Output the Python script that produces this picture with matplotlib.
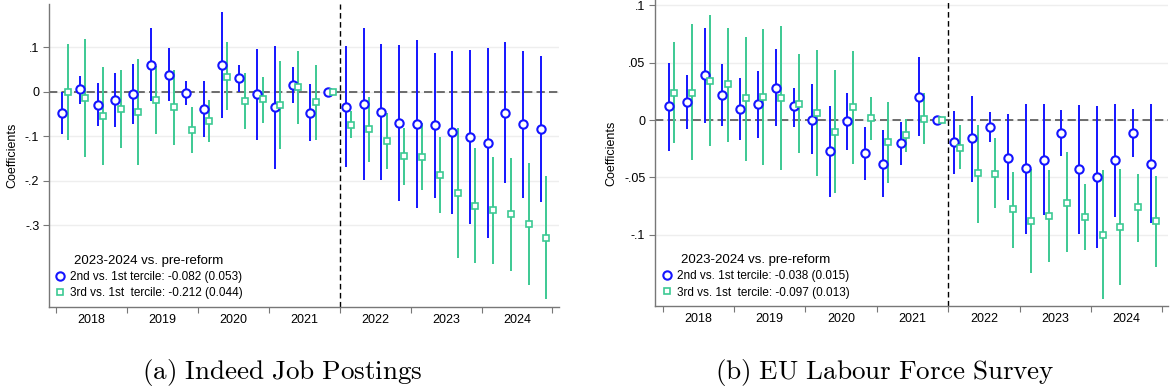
import numpy as np
import matplotlib.pyplot as plt

plt.rcParams['font.family'] = ['Liberation Sans', 'DejaVu Sans']
plt.rcParams['mathtext.fontset'] = 'cm'

years = ["2018", "2019", "2020", "2021", "2022", "2023", "2024"]
n_quarters = 28
ref_break = 15.5  # between 2021Q4 and 2022Q1

# (a) Indeed job postings
a_b2 = [-0.047, 0.005, -0.029, -0.018, -0.006, 0.061, 0.038, -0.003, -0.038, 0.059, 0.030, -0.006, -0.035, 0.015,
        -0.047, 0.0, -0.034, -0.028, -0.045, -0.070, -0.073, -0.076, -0.091, -0.102, -0.115, -0.047, -0.072, -0.084]
a_hi2 = [0.0, 0.035, 0.019, 0.043, 0.063, 0.143, 0.097, 0.023, 0.025, 0.179, 0.060, 0.096, 0.102, 0.055,
         0.018, 0.0, 0.102, 0.144, 0.108, 0.105, 0.116, 0.087, 0.091, 0.093, 0.099, 0.111, 0.092, 0.081]
a_lo2 = [-0.095, -0.027, -0.077, -0.079, -0.073, -0.020, -0.020, -0.029, -0.101, -0.060, -0.001, -0.108, -0.173, -0.025,
         -0.112, 0.0, -0.170, -0.198, -0.198, -0.246, -0.262, -0.239, -0.274, -0.298, -0.330, -0.205, -0.238, -0.249]
a_b3 = [-0.001, -0.015, -0.055, -0.040, -0.046, -0.019, -0.035, -0.087, -0.067, 0.034, -0.021, -0.017, -0.030, 0.010,
        -0.023, 0.0, -0.074, -0.084, -0.111, -0.145, -0.147, -0.188, -0.228, -0.256, -0.266, -0.275, -0.298, -0.328]
a_hi3 = [0.107, 0.118, 0.055, 0.048, 0.073, 0.058, 0.049, -0.034, -0.019, 0.111, 0.043, 0.034, 0.070, 0.091,
         0.061, 0.0, -0.043, -0.012, -0.048, -0.082, -0.071, -0.102, -0.081, -0.126, -0.147, -0.148, -0.160, -0.189]
a_lo3 = [-0.108, -0.147, -0.164, -0.126, -0.165, -0.096, -0.119, -0.138, -0.114, -0.041, -0.085, -0.070, -0.130, -0.073,
         -0.109, 0.0, -0.105, -0.157, -0.173, -0.209, -0.222, -0.273, -0.374, -0.386, -0.387, -0.404, -0.435, -0.467]

# (b) EU Labour Force Survey
b_b2 = [0.012, 0.016, 0.039, 0.022, 0.010, 0.014, 0.028, 0.012, 0.0, -0.027, -0.001, -0.029, -0.038, -0.020,
        0.020, 0.0, -0.019, -0.016, -0.006, -0.033, -0.042, -0.035, -0.011, -0.043, -0.050, -0.035, -0.011, -0.038]
b_hi2 = [0.050, 0.039, 0.080, 0.049, 0.037, 0.043, 0.062, 0.028, 0.031, 0.012, 0.024, -0.006, -0.009, -0.002,
         0.055, 0.0, 0.008, 0.021, 0.007, 0.005, 0.014, 0.014, 0.009, 0.013, 0.012, 0.014, 0.010, 0.014]
b_lo2 = [-0.027, -0.008, -0.003, -0.005, -0.017, -0.016, -0.005, -0.006, -0.030, -0.067, -0.026, -0.052, -0.067, -0.039,
         -0.014, 0.0, -0.047, -0.054, -0.019, -0.070, -0.099, -0.083, -0.031, -0.099, -0.112, -0.085, -0.032, -0.090]
b_b3 = [0.024, 0.024, 0.034, 0.031, 0.019, 0.020, 0.019, 0.014, 0.006, -0.010, 0.011, 0.002, -0.019, -0.013,
        0.001, 0.0, -0.024, -0.046, -0.047, -0.078, -0.088, -0.084, -0.072, -0.085, -0.100, -0.093, -0.076, -0.088]
b_hi3 = [0.068, 0.084, 0.092, 0.080, 0.072, 0.079, 0.082, 0.058, 0.061, 0.044, 0.060, 0.020, 0.016, 0.001,
         0.024, 0.0, -0.004, -0.004, -0.016, -0.045, -0.043, -0.044, -0.028, -0.056, -0.044, -0.043, -0.047, -0.049]
b_lo3 = [-0.020, -0.035, -0.023, -0.019, -0.036, -0.039, -0.044, -0.029, -0.049, -0.064, -0.038, -0.017, -0.055, -0.028,
         -0.021, 0.0, -0.043, -0.090, -0.077, -0.112, -0.133, -0.124, -0.115, -0.113, -0.156, -0.144, -0.106, -0.128]

a_yticks = [0.1, 0.0, -0.1, -0.2, -0.3]
a_ylabels = [".1", "0", "-.1", "-.2", "-.3"]
b_yticks = [0.1, 0.05, 0.0, -0.05, -0.1]
b_ylabels = [".1", ".05", "0", "-.05", "-.1"]

a_leg = ["2nd vs. 1st tercile: -0.082 (0.053)", "3rd vs. 1st  tercile: -0.212 (0.044)"]
b_leg = ["2nd vs. 1st tercile: -0.038 (0.015)", "3rd vs. 1st  tercile: -0.097 (0.013)"]
leg_title = "2023-2024 vs. pre-reform"

BLUE = "#1414ff"
GREEN = "#3cc993"
SPINE = "#777777"


def panel(ax, b2, lo2, hi2, b3, lo3, hi3, yticks, ylabels, ylim, xlim, labels, leg_xy, ylab_x):
    t = np.arange(n_quarters)
    x2 = t - 0.15
    x3 = t + 0.15
    for y in yticks:
        ax.axhline(y, color="#eeeeee", lw=1, zorder=0)
    ax.axhline(0, color="#555555", lw=1.2, dashes=(5, 2.5), zorder=1)
    ax.axvline(ref_break, color="black", lw=1, dashes=(4, 2.5), zorder=1)
    ax.vlines(x2, lo2, hi2, color=BLUE, lw=1.4, zorder=2)
    ax.vlines(x3, lo3, hi3, color=GREEN, lw=1.4, zorder=2)
    h2, = ax.plot(x2, b2, 'o', ms=6, mfc='white', mec=BLUE, mew=1.5, ls='none', zorder=3)
    h3, = ax.plot(x3, b3, 's', ms=5, mfc='white', mec=GREEN, mew=1.2, ls='none', zorder=3)

    ax.set_xlim(*xlim)
    ax.set_ylim(*ylim)
    ax.set_yticks(yticks)
    ax.set_yticklabels(ylabels)
    ax.set_xticks(np.arange(-0.5, n_quarters, 4))
    ax.set_xticklabels([])
    ax.set_xticks(np.arange(1.5, n_quarters, 4), minor=True)
    ax.set_xticklabels(years, minor=True)
    ax.tick_params(axis='x', which='major', length=4, color=SPINE)
    ax.tick_params(axis='x', which='minor', length=0, pad=5, labelsize=9)
    ax.tick_params(axis='y', length=4, color=SPINE, labelsize=9, pad=3)
    for s in ['top', 'right']:
        ax.spines[s].set_visible(False)
    for s in ['left', 'bottom']:
        ax.spines[s].set_color(SPINE)
        ax.spines[s].set_linewidth(1)
    ax.set_ylabel("Coefficients", fontsize=9)
    ax.yaxis.set_label_coords(ylab_x, 0.5)

    leg = ax.legend([h2, h3], labels, title=leg_title, loc='upper left', bbox_to_anchor=leg_xy,
                    frameon=False, fontsize=8.5, title_fontsize=9.5, handlelength=0.8,
                    handletextpad=0.4, borderpad=0, borderaxespad=0, labelspacing=0.35)
    leg._legend_box.sep = 3


fig = plt.figure(figsize=(11.7, 3.9), dpi=100)
ax1 = fig.add_axes([49 / 1170, 1 - 307 / 390, 510 / 1170, 303 / 390])
ax2 = fig.add_axes([655 / 1170, 1 - 306 / 390, 513 / 1170, 306 / 390])

panel(ax1, a_b2, a_lo2, a_hi2, a_b3, a_lo3, a_hi3, a_yticks, a_ylabels,
      (-0.484, 0.197), (-0.894, 27.87), a_leg, (0.013, 0.171), -0.061)
panel(ax2, b_b2, b_lo2, b_hi2, b_b3, b_lo3, b_hi3, b_yticks, b_ylabels,
      (-0.1622, 0.1047), (-0.93, 27.82), b_leg, (0.0146, 0.169), -0.074)

fig.text(282 / 1170, 1 - 372 / 390, r"$\mathrm{(a)\ Indeed\ Job\ Postings}$", fontsize=19.5,
         ha='center', va='center')
fig.text(885 / 1170, 1 - 372 / 390, r"$\mathrm{(b)\ EU\ Labour\ Force\ Survey}$", fontsize=19.5,
         ha='center', va='center')

fig.savefig("out.png", dpi=100)
